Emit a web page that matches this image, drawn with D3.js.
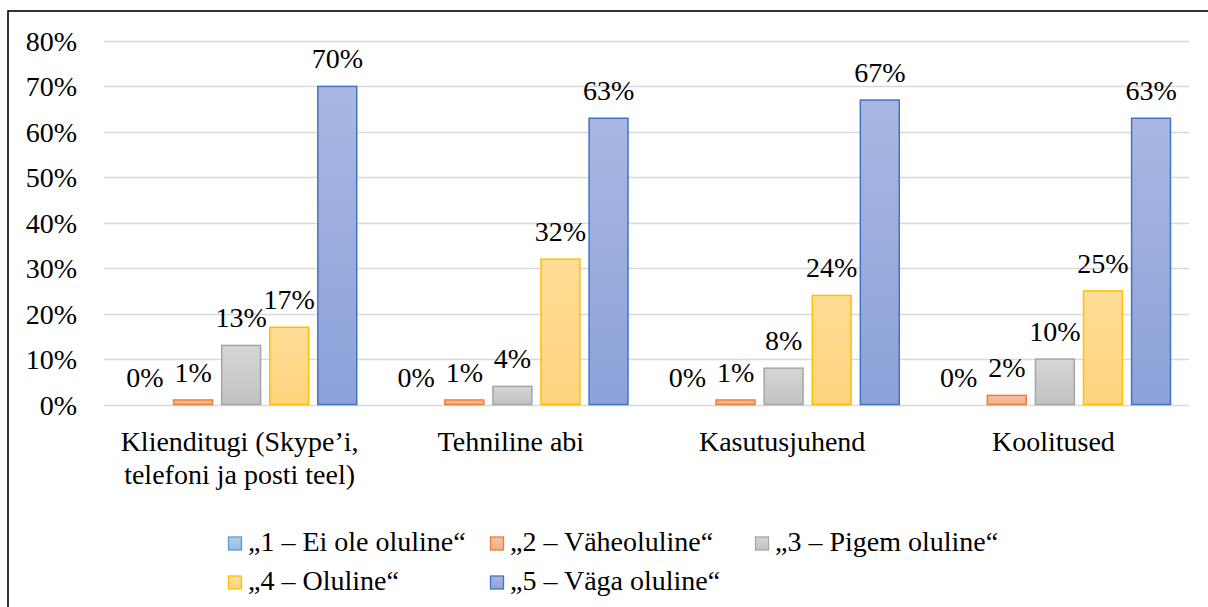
<!DOCTYPE html>
<html>
<head>
<meta charset="utf-8">
<script src="https://cdn.jsdelivr.net/npm/d3@7"></script>
<style>
  body { margin: 0; background: #fff; }
</style>
</head>
<body>
<div id="chart"></div>
<script>
const categories = ["Klienditugi (Skype’i, telefoni ja posti teel)", "Tehniline abi", "Kasutusjuhend", "Koolitused"];
const seriesNames = ["„1 – Ei ole oluline“", "„2 – Väheoluline“", "„3 – Pigem oluline“", "„4 – Oluline“", "„5 – Väga oluline“"];
const s1 = [0, 0, 0, 0];
const s2 = [1, 1, 1, 2];
const s3 = [13, 4, 8, 10];
const s4 = [17, 32, 24, 25];
const s5 = [70, 63, 67, 63];
const yTicks = [0, 10, 20, 30, 40, 50, 60, 70, 80];

const seriesValues = [s1, s2, s3, s4, s5];
const colors = [
    { top: "#b0cdea", bottom: "#98bde3", stroke: "#5b9bd5" },
    { top: "#f7c2a6", bottom: "#f3ae8c", stroke: "#ed7d31" },
    { top: "#d6d6d6", bottom: "#c2c2c2", stroke: "#a5a5a5" },
    { top: "#ffdd96", bottom: "#ffd47e", stroke: "#ffc000" },
    { top: "#a9b7e2", bottom: "#8ca2da", stroke: "#4472c4" },
];
const FONT = "'Liberation Serif', 'Times New Roman', serif";
const FS = "28px";

const W = 1208, H = 607;
const margin = { top: 41, right: 19, bottom: 202, left: 104 };

const svg = d3.select("#chart").append("svg")
    .attr("width", W).attr("height", H);

// gradients
const defs = svg.append("defs");
colors.forEach((c, i) => {
    const g = defs.append("linearGradient")
        .attr("id", `grad-${i}`)
        .attr("x1", 0).attr("y1", 0).attr("x2", 0).attr("y2", 1);
    g.append("stop").attr("offset", "0%").attr("stop-color", c.top);
    g.append("stop").attr("offset", "100%").attr("stop-color", c.bottom);
});

// outer frame (cropped on right and bottom like the source)
svg.append("rect")
    .attr("x", 8).attr("y", 11)
    .attr("width", W + 20).attr("height", H + 20)
    .attr("fill", "none").attr("stroke", "#000").attr("stroke-width", 1.6);

const x0 = d3.scaleBand()
    .domain(categories)
    .range([margin.left, W - margin.right]);

const x1 = d3.scaleBand()
    .domain(seriesNames)
    .range([21, x0.bandwidth() - 18])
    .paddingInner(0.17);

const y = d3.scaleLinear()
    .domain([0, 80])
    .range([H - margin.bottom - 0.5, margin.top]);

// gridlines
svg.append("g")
    .selectAll("line")
    .data(yTicks)
    .join("line")
    .attr("x1", margin.left).attr("x2", W - margin.right)
    .attr("y1", d => Math.round(y(d)) + 0.5).attr("y2", d => Math.round(y(d)) + 0.5)
    .attr("stroke", "#d9d9d9").attr("stroke-width", 1.3);

// y axis labels
const yAxis = d3.axisLeft(y).tickValues(yTicks).tickFormat(d => d + "%").tickSize(0).tickPadding(0);
const yg = svg.append("g")
    .attr("transform", `translate(${margin.left - 27},0)`)
    .call(yAxis);
yg.select(".domain").remove();
yg.attr("font-family", null).attr("font-size", null);
yg.selectAll("text")
    .style("font-size", FS)
    .style("font-family", FONT)
    .attr("fill", "#000")
    .attr("dy", "0.34em");

// bars
seriesValues.forEach((vals, i) => {
    const name = seriesNames[i];
    const g = svg.append("g").attr("class", `series-${i}`);
    g.selectAll("rect")
        .data(vals)
        .join("rect")
        .attr("x", (d, k) => x0(categories[k]) + x1(name) + 0.5)
        .attr("y", d => y(d))
        .attr("width", x1.bandwidth() - 1)
        .attr("height", d => y(0) - y(d))
        .attr("fill", `url(#grad-${i})`)
        .attr("stroke", d => d > 0 ? colors[i].stroke : "none")
        .attr("stroke-width", 1.5);

    g.selectAll("text")
        .data(vals)
        .join("text")
        .attr("x", (d, k) => x0(categories[k]) + x1(name) + x1.bandwidth() / 2)
        .attr("y", d => y(d) - 18)
        .attr("text-anchor", "middle")
        .style("font-size", FS)
        .style("font-family", FONT)
        .text(d => d + "%");
});

// category labels with wrapping
const xg = svg.append("g");
categories.forEach(cat => {
    const cx = x0(cat) + x0.bandwidth() / 2;
    const t = xg.append("text")
        .attr("x", cx)
        .attr("y", 451)
        .attr("text-anchor", "middle")
        .style("font-size", FS)
        .style("font-family", FONT);
    const words = cat.split(" ");
    let line = [];
    let tspan = t.append("tspan").attr("x", cx).attr("dy", 0);
    words.forEach(w => {
        line.push(w);
        tspan.text(line.join(" "));
        if (tspan.node().getComputedTextLength() > 262 && line.length > 1) {
            line.pop();
            tspan.text(line.join(" "));
            line = [w];
            tspan = t.append("tspan")
                .attr("x", cx)
                .attr("dy", 33)
                .text(w);
        }
    });
});

// legend
const legendCols = [228, 490, 755];
const legendRows = [551, 590];
const legend = svg.append("g").attr("class", "legend");
seriesNames.forEach((name, i) => {
    const col = i % 3, row = Math.floor(i / 3);
    const item = legend.append("g")
        .attr("transform", `translate(${legendCols[col]},${legendRows[row]})`);
    item.append("rect")
        .attr("x", 0.5).attr("y", -14)
        .attr("width", 13).attr("height", 13)
        .attr("fill", `url(#grad-${i})`)
        .attr("stroke", colors[i].stroke)
        .attr("stroke-width", 1.3);
    item.append("text")
        .attr("x", 20)
        .attr("y", 0)
        .style("font-size", FS)
        .style("font-family", FONT)
        .text(name);
});
</script>
</body>
</html>
